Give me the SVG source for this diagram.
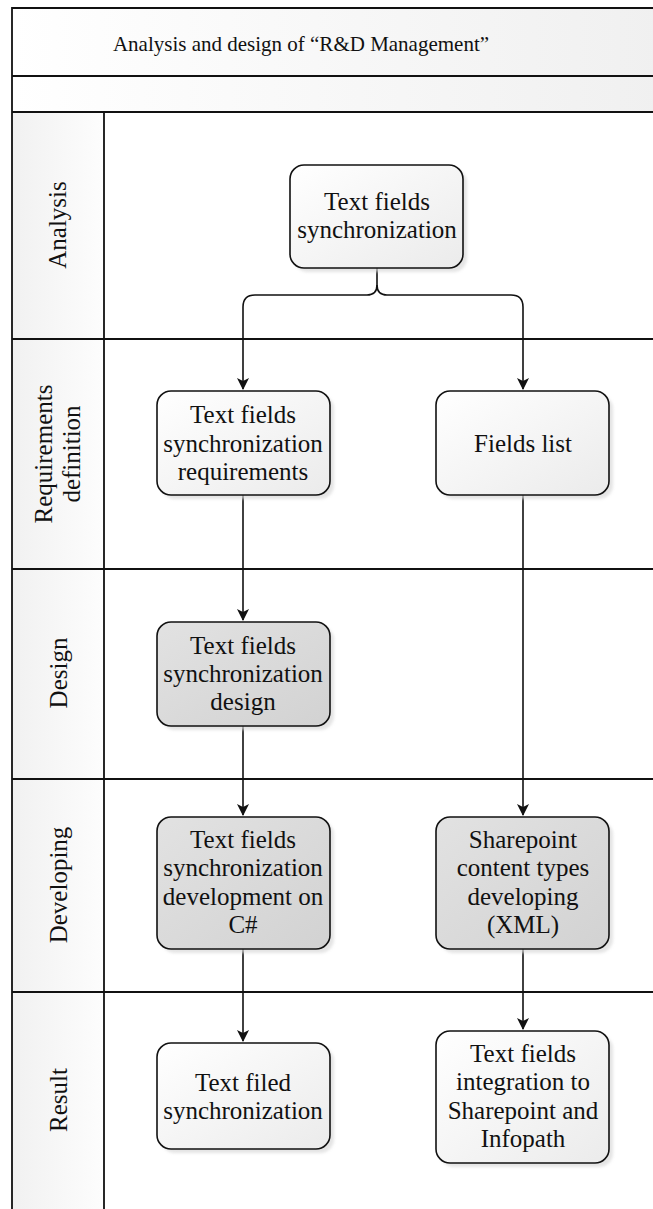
<svg xmlns="http://www.w3.org/2000/svg" width="653" height="1209" viewBox="0 0 653 1209">
<style>
.frame{fill:none;stroke:#111;stroke-width:1.8}
.node{stroke:#111;stroke-width:1.6}
.light{fill:url(#gLight)}
.dark{fill:url(#gDark)}
.shadow{fill:#d9d9d9;opacity:0.7;filter:url(#blur)}
.lbl{font-family:"Liberation Serif","Times New Roman",serif;font-size:25px;fill:#111;text-anchor:middle}
.title{font-family:"Liberation Serif","Times New Roman",serif;font-size:21px;fill:#111;text-anchor:middle}
.conn{fill:none;stroke:#111;stroke-width:1.6}
</style>
<defs>
<linearGradient id="gLight" x1="0" y1="0" x2="1" y2="1">
<stop offset="0" stop-color="#ffffff"/>
<stop offset="1" stop-color="#ebebeb"/>
</linearGradient>
<linearGradient id="gDark" x1="0" y1="0" x2="1" y2="1">
<stop offset="0" stop-color="#e2e2e2"/>
<stop offset="1" stop-color="#d2d2d2"/>
</linearGradient>
<linearGradient id="gLane" x1="0" y1="0" x2="1" y2="0">
<stop offset="0" stop-color="#f1f1f1"/>
<stop offset="1" stop-color="#fdfdfd"/>
</linearGradient>
<linearGradient id="gHead" x1="0" y1="0" x2="1" y2="0">
<stop offset="0" stop-color="#ffffff"/>
<stop offset="1" stop-color="#f0f0f0"/>
</linearGradient>
<filter id="blur" x="-10%" y="-10%" width="120%" height="120%"><feGaussianBlur stdDeviation="1.5"/></filter>
<marker id="arr" viewBox="0 0 12 12" refX="11" refY="6" markerWidth="12" markerHeight="12" markerUnits="userSpaceOnUse" orient="auto">
<path d="M0,0 L12,6 L0,12 L3,6 Z" fill="#111"/>
</marker>
</defs>

<g id="pool">
<rect x="12" y="8" width="650" height="68" fill="url(#gHead)"/>
<rect x="12" y="76" width="650" height="36" fill="url(#gHead)"/>
<rect x="12" y="112" width="92" height="1100" fill="url(#gLane)"/>
<path class="frame" d="M653,8 H12 V1209 M12,76 H653 M12,112 H653 M104,112 V1209 M12,339 H653 M12,569 H653 M12,779 H653 M12,992 H653"/>
<text class="title" x="301" y="51">Analysis and design of “R&amp;D Management”</text>
</g>

<g id="lane-analysis"><text class="lbl" transform="translate(66,225) rotate(-90)" x="0" y="0">Analysis</text></g>
<g id="lane-requirements"><text class="lbl" transform="translate(52,454) rotate(-90)" x="0" y="0">Requirements</text><text class="lbl" transform="translate(80,454) rotate(-90)" x="0" y="0">definition</text></g>
<g id="lane-design"><text class="lbl" transform="translate(67,673) rotate(-90)" x="0" y="0">Design</text></g>
<g id="lane-developing"><text class="lbl" transform="translate(67,885) rotate(-90)" x="0" y="0">Developing</text></g>
<g id="lane-result"><text class="lbl" transform="translate(67,1100) rotate(-90)" x="0" y="0">Result</text></g>

<g id="connectors">
<path class="conn" d="M377,268 V285 Q377,295 367,295 H255 Q243,295 243,307 V389" marker-end="url(#arr)"/>
<path class="conn" d="M377,285 Q377,295 387,295 H511 Q523,295 523,307 V389" marker-end="url(#arr)"/>
<path class="conn" d="M243,495 V620" marker-end="url(#arr)"/>
<path class="conn" d="M523,495 V815" marker-end="url(#arr)"/>
<path class="conn" d="M243,726 V815" marker-end="url(#arr)"/>
<path class="conn" d="M243,949 V1041" marker-end="url(#arr)"/>
<path class="conn" d="M523,949 V1029" marker-end="url(#arr)"/>
</g>

<g id="n-analysis">
<rect class="shadow" x="294" y="169" width="173" height="103" rx="14"/>
<rect class="node light" x="290" y="165" width="173" height="103" rx="14"/>
<text class="lbl" x="377" y="210">Text fields</text><text class="lbl" x="377" y="238">synchronization</text>
</g>

<g id="n-req-text">
<rect class="shadow" x="161" y="395" width="173" height="104" rx="14"/>
<rect class="node light" x="157" y="391" width="173" height="104" rx="14"/>
<text class="lbl" x="243" y="423">Text fields</text><text class="lbl" x="243" y="451.5">synchronization</text><text class="lbl" x="243" y="480">requirements</text>
</g>

<g id="n-fields-list">
<rect class="shadow" x="440" y="395" width="173" height="104" rx="14"/>
<rect class="node light" x="436" y="391" width="173" height="104" rx="14"/>
<text class="lbl" x="523" y="452">Fields list</text>
</g>

<g id="n-design">
<rect class="shadow" x="161" y="626" width="173" height="104" rx="14"/>
<rect class="node dark" x="157" y="622" width="173" height="104" rx="14"/>
<text class="lbl" x="243" y="653.5">Text fields</text><text class="lbl" x="243" y="682">synchronization</text><text class="lbl" x="243" y="710">design</text>
</g>

<g id="n-dev-text">
<rect class="shadow" x="161" y="821" width="173" height="132" rx="14"/>
<rect class="node dark" x="157" y="817" width="173" height="132" rx="14"/>
<text class="lbl" x="243" y="848">Text fields</text><text class="lbl" x="243" y="876">synchronization</text><text class="lbl" x="243" y="905">development on</text><text class="lbl" x="243" y="933">C#</text>
</g>

<g id="n-dev-sharepoint">
<rect class="shadow" x="440" y="821" width="173" height="132" rx="14"/>
<rect class="node dark" x="436" y="817" width="173" height="132" rx="14"/>
<text class="lbl" x="523" y="848">Sharepoint</text><text class="lbl" x="523" y="876">content types</text><text class="lbl" x="523" y="905">developing</text><text class="lbl" x="523" y="933">(XML)</text>
</g>

<g id="n-result-text">
<rect class="shadow" x="161" y="1047" width="173" height="106" rx="14"/>
<rect class="node light" x="157" y="1043" width="173" height="106" rx="14"/>
<text class="lbl" x="243" y="1091">Text filed</text><text class="lbl" x="243" y="1119">synchronization</text>
</g>

<g id="n-result-integration">
<rect class="shadow" x="440" y="1035" width="173" height="132" rx="14"/>
<rect class="node light" x="436" y="1031" width="173" height="132" rx="14"/>
<text class="lbl" x="523" y="1062">Text fields</text><text class="lbl" x="523" y="1090">integration to</text><text class="lbl" x="523" y="1119">Sharepoint and</text><text class="lbl" x="523" y="1147">Infopath</text>
</g>
</svg>
